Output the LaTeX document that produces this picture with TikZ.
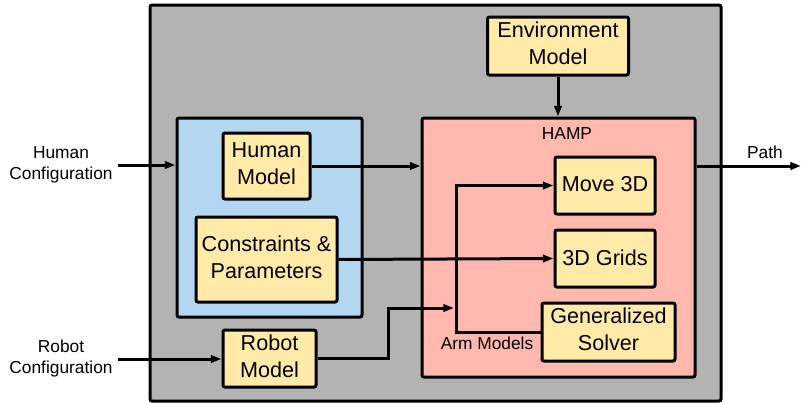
\documentclass[tikz,border=0pt]{standalone}
\usepackage{fontspec}
\setmainfont{Liberation Sans}
\usetikzlibrary{arrows.meta}

\definecolor{outergray}{HTML}{B3B3B3}
\definecolor{inputblue}{HTML}{B3D7F0}
\definecolor{hampred}{HTML}{FFB8AE}
\definecolor{modyellow}{HTML}{FFEAA7}

\tikzset{
  frame/.style={draw=black, line width=2.25pt, rounded corners=1.5pt, inner sep=0pt},
  module/.style={frame, fill=modyellow},
  bigtext/.style={align=center, font=\fontsize{16.2}{20}\selectfont, inner sep=0pt},
  smalltext/.style={align=center, font=\fontsize{13}{15.75}\selectfont, inner sep=0pt},
  link/.style={draw=black, line width=2.25pt},
  flow/.style={link, -{Triangle[length=8pt,width=5.5pt]}},
}

\begin{document}
\begin{tikzpicture}[x=0.75pt, y=-0.75pt]
  \useasboundingbox (0,0) rectangle (801,404);

  % containers
  \node[frame, fill=outergray, minimum width=571*0.75pt, minimum height=396*0.75pt] (sys) at (435.5,203) {};
  \node[frame, fill=inputblue, minimum width=185*0.75pt, minimum height=199*0.75pt] (human) at (269.5,217.5) {};
  \node[frame, fill=hampred, minimum width=273*0.75pt, minimum height=259*0.75pt] (hamp) at (558.5,247.5) {};
  \node[smalltext] (hamplbl) at (567,134) {HAMP};

  % modules (box, then its text slightly above centre)
  \node[module, minimum width=87*0.75pt, minimum height=66*0.75pt] (hm) at (266.5,166) {};
  \node[bigtext] (hmt) at (266.5,163.5) {Human\\Model};
  \node[module, minimum width=141*0.75pt, minimum height=85*0.75pt] (cp) at (266.5,259.5) {};
  \node[bigtext] (cpt) at (266.5,257) {Constraints \&\\Parameters};
  \node[module, minimum width=93*0.75pt, minimum height=57*0.75pt] (rm) at (269.5,358.5) {};
  \node[bigtext] (rmt) at (269.5,356) {Robot\\Model};
  \node[module, minimum width=141*0.75pt, minimum height=58*0.75pt] (env) at (558,46) {};
  \node[bigtext] (envt) at (558,43.5) {Environment\\Model};
  \node[module, minimum width=100*0.75pt, minimum height=57*0.75pt] (mv) at (605,185.5) {};
  \node[bigtext] (mvt) at (605,184.5) {Move 3D};
  \node[module, minimum width=100*0.75pt, minimum height=57*0.75pt] (gr) at (605,258.5) {};
  \node[bigtext] (grt) at (605,257.5) {3D Grids};
  \node[module, minimum width=133*0.75pt, minimum height=58*0.75pt] (gs) at (608.5,332) {};
  \node[bigtext] (gst) at (608.5,329.5) {Generalized\\Solver};

  % external labels
  \node[smalltext] (hcfg) at (61,164.5) {Human\\Configuration};
  \node[smalltext] (rcfg) at (61,359) {Robot\\Configuration};
  \node[smalltext] (path) at (765,152) {Path};
  \node[smalltext] (arm) at (487,343) {Arm Models};

  % connector end points
  \coordinate (hin) at (118,165);
  \coordinate (rin) at (118,359);
  \coordinate (pout) at (801,166);
  \coordinate (rjog) at (388,358.5);
  \coordinate (rbus) at (456,308);
  \coordinate (bustop) at (456,185.5);
  \coordinate (busbot) at (456,332);

  % connectors
  \draw[flow] (hin) -- (hin -| human.west);
  \draw[flow] (rin) -- (rin -| rm.west);
  \draw[flow] (hm.east) -- (hm.east -| hamp.west);
  \draw[flow] (cp.east) -- (gr.west);
  \draw[flow] (env.south) -- (env.south |- hamp.north);
  \draw[flow] (hamp.east |- pout) -- (pout);
  \draw[flow] (rm.east) -- (rjog) |- ([xshift=-1.5]rbus);
  \draw[link] (gs.west) -- (busbot) -- (bustop);
  \draw[flow] ([xshift=-1.1pt]bustop) -- (mv.west);
\end{tikzpicture}
\end{document}
